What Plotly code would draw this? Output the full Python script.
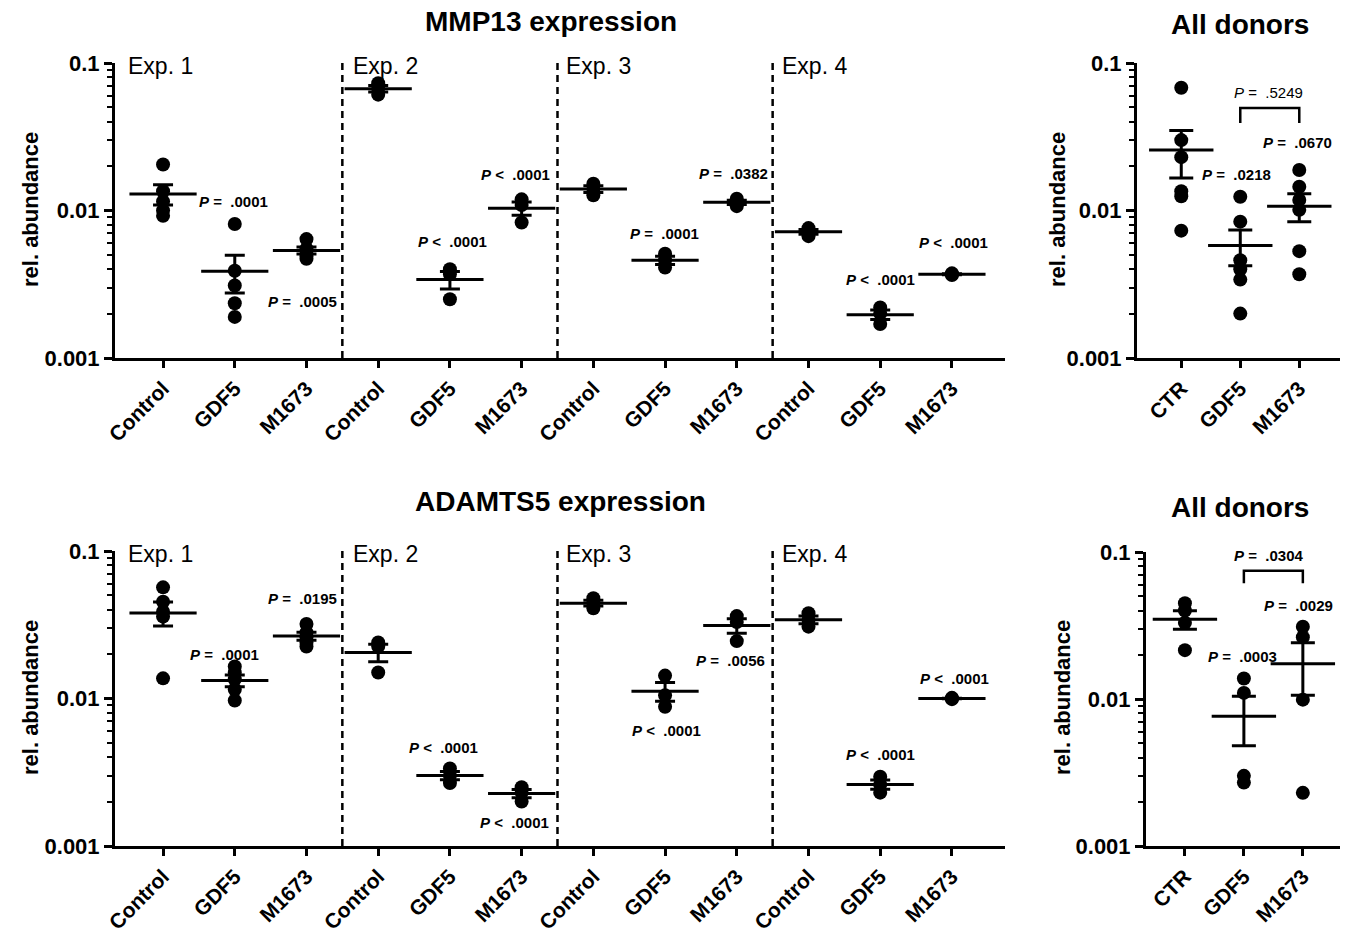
import numpy as np
import plotly.graph_objects as go

# ---------------- data ----------------
exp_categories = ["Control", "GDF5", "M1673"] * 4
donor_categories = ["CTR", "GDF5", "M1673"]
exp_names = ["Exp. 1", "Exp. 2", "Exp. 3", "Exp. 4"]
y_tick_vals = [0.001, 0.01, 0.1]
y_tick_text = ["0.001", "0.01", "0.1"]

mmp13_exp = [
    [0.0205, 0.0135, 0.0115, 0.0100, 0.0092],
    [0.0081, 0.0039, 0.0031, 0.00235, 0.0019],
    [0.0064, 0.0055, 0.0053, 0.0049, 0.0047],
    [0.073, 0.067, 0.061],
    [0.0040, 0.0037, 0.0025],
    [0.0119, 0.0109, 0.0083],
    [0.0152, 0.0140, 0.0127],
    [0.0051, 0.0046, 0.0041],
    [0.0120, 0.0114, 0.0107],
    [0.0076, 0.0072, 0.0067],
    [0.0022, 0.0020, 0.0017],
    [0.00375, 0.0037, 0.00365],
]
mmp13_donors = [
    [0.068, 0.030, 0.023, 0.0135, 0.0125, 0.0073],
    [0.0124, 0.0084, 0.0046, 0.0040, 0.0034, 0.0020],
    [0.0188, 0.0145, 0.0118, 0.0101, 0.0053, 0.0037],
]
adamts5_exp = [
    [0.0567, 0.0453, 0.0387, 0.0359, 0.0137],
    [0.0165, 0.0150, 0.0135, 0.0115, 0.0097],
    [0.0320, 0.0280, 0.0260, 0.0240, 0.0225],
    [0.0240, 0.0225, 0.0150],
    [0.00335, 0.0030, 0.00267],
    [0.0025, 0.0023, 0.0020],
    [0.0478, 0.0442, 0.0409],
    [0.0143, 0.0105, 0.0088],
    [0.0362, 0.0330, 0.0245],
    [0.0378, 0.0341, 0.0307],
    [0.00295, 0.0026, 0.0023],
    [0.0101, 0.0100, 0.0099],
]
adamts5_donors = [
    [0.0448, 0.0400, 0.0330, 0.0215],
    [0.0138, 0.0110, 0.0030, 0.0027],
    [0.0310, 0.0263, 0.0099, 0.0023],
]

mmp13_exp_p = ["", "P = .0001", "P = .0005", "", "P < .0001", "P < .0001",
               "", "P = .0001", "P = .0382", "", "P < .0001", "P < .0001"]
adamts5_exp_p = ["", "P = .0001", "P = .0195", "", "P < .0001", "P < .0001",
                 "", "P < .0001", "P = .0056", "", "P < .0001", "P < .0001"]
mmp13_donor_p = ["", "P = .0218", "P = .0670"]
adamts5_donor_p = ["", "P = .0003", "P = .0029"]
mmp13_bracket_p = "P = .5249"
adamts5_bracket_p = "P = .0304"

# ---------------- helpers ----------------
W, H = 1346, 934
FONT = "Liberation Sans, Arial, sans-serif"


def px_x(p):
    return p / W


def px_y(p):
    return 1 - p / H


def ptxt(s, bold=True):
    sym = "=" if "=" in s else "&lt;"
    val = s.split(" ")[-1]
    inner = "<i>P</i> " + sym + "\u00a0 " + val
    return "<b>" + inner + "</b>" if bold else inner


fig = go.Figure()


def add_panel(groups, xa, ya, mean_len, cap):
    xs, ys = [], []
    for i, g in enumerate(groups):
        xs += [i] * len(g)
        ys += g
    fig.add_trace(go.Scatter(
        x=xs, y=ys, mode="markers", xaxis=xa, yaxis=ya,
        marker=dict(color="black", size=14, line=dict(width=0)),
        showlegend=False, hoverinfo="y"))
    means = [float(np.mean(g)) for g in groups]
    sems = [float(np.std(g, ddof=1) / np.sqrt(len(g))) for g in groups]
    fig.add_trace(go.Scatter(
        x=list(range(len(groups))), y=means, mode="markers", xaxis=xa, yaxis=ya,
        marker=dict(symbol="line-ew", size=mean_len, color="black",
                    line=dict(color="black", width=3)),
        error_y=dict(type="data", array=sems, visible=True, color="black",
                     thickness=3, width=cap),
        showlegend=False, hoverinfo="y"))


add_panel(mmp13_exp, "x", "y", 48, 10)
add_panel(mmp13_donors, "x2", "y2", 46, 12)
add_panel(adamts5_exp, "x3", "y3", 48, 10)
add_panel(adamts5_donors, "x4", "y4", 46, 12)

# brackets for donor comparisons GDF5 vs M1673
for (xa, ya, top, leg) in [("x2", "y2", 0.0495, 0.0392), ("x4", "y4", 0.0746, 0.0612)]:
    fig.add_trace(go.Scatter(
        x=[1, 1, 2, 2], y=[leg, top, top, leg], mode="lines", xaxis=xa, yaxis=ya,
        line=dict(color="black", width=2.5), showlegend=False, hoverinfo="skip"))

minor_vals = [m * 10.0 ** e for e in (-3, -2) for m in range(2, 10)]


def yaxis(dom, anchor):
    return dict(
        type="log", range=[-3, -1], domain=dom, anchor=anchor, automargin=False,
        tickmode="array", tickvals=y_tick_vals, ticktext=y_tick_text,
        ticks="outside", ticklen=8, tickwidth=2.5, tickcolor="black",
        showline=True, linewidth=3, linecolor="black",
        showgrid=False, zeroline=False,
        tickfont=dict(family=FONT, size=22, color="black", weight="bold"),
        minor=dict(tickmode="array", tickvals=minor_vals, ticks="outside",
                   ticklen=5, tickwidth=2, tickcolor="black", showgrid=False),
    )


def xaxis(dom, anchor, rng, labels):
    return dict(
        domain=dom, anchor=anchor, range=rng, automargin=False,
        tickmode="array", tickvals=list(range(len(labels))), ticktext=labels,
        tickangle=-45, ticks="outside", ticklen=7, tickwidth=2.5, tickcolor="black",
        showline=True, linewidth=3, linecolor="black",
        showgrid=False, zeroline=False,
        tickfont=dict(family=FONT, size=21, color="black", weight="bold"),
    )


top_dom = [px_y(358), px_y(63)]
bot_dom = [px_y(846), px_y(551)]

fig.update_layout(
    template="none",
    width=W, height=H, autosize=False,
    margin=dict(l=0, r=0, t=0, b=0, pad=0, autoexpand=False),
    paper_bgcolor="white", plot_bgcolor="white",
    font=dict(family=FONT, color="black"),
    showlegend=False,
    xaxis=xaxis([px_x(115), px_x(1005)], "y", [-0.67, 11.74], exp_categories),
    yaxis=yaxis(top_dom, "x"),
    xaxis2=xaxis([px_x(1137), px_x(1340)], "y2", [-0.75, 2.69], donor_categories),
    yaxis2=yaxis(top_dom, "x2"),
    xaxis3=xaxis([px_x(115), px_x(1005)], "y3", [-0.67, 11.74], exp_categories),
    yaxis3=yaxis(bot_dom, "x3"),
    xaxis4=xaxis([px_x(1146), px_x(1340)], "y4", [-0.66, 2.63], donor_categories),
    yaxis4=yaxis([px_y(846), px_y(552)], "x4"),
)

# dashed separators between experiments
shapes = []
for xr, yr in [("x", "y domain"), ("x3", "y3 domain")]:
    for xv in (2.5, 5.5, 8.5):
        shapes.append(dict(type="line", xref=xr, yref=yr, x0=xv, x1=xv, y0=0, y1=1,
                           line=dict(color="black", width=2.5, dash="7px,5px")))
fig.update_layout(shapes=shapes)

ann = []
# titles
for txt, cx, cy in [("MMP13 expression", 551, 22), ("All donors", 1240, 25),
                    ("ADAMTS5 expression", 560, 502), ("All donors", 1240, 507)]:
    ann.append(dict(text="<b>" + txt + "</b>", x=px_x(cx), y=px_y(cy), xref="paper", yref="paper",
                    showarrow=False, xanchor="center", yanchor="middle",
                    font=dict(family=FONT, size=28, color="black")))
# y axis titles
for cx, cy in [(30, 210), (1057, 210), (30, 698), (1062, 698)]:
    ann.append(dict(text="<b>rel. abundance</b>", x=px_x(cx), y=px_y(cy), xref="paper",
                    yref="paper", showarrow=False, textangle=-90,
                    xanchor="center", yanchor="middle",
                    font=dict(family=FONT, size=22, color="black")))
# experiment labels
for xr, yr in [("x", "y"), ("x3", "y3")]:
    for nm, xv in zip(exp_names, (-0.52, 2.62, 5.59, 8.6)):
        ann.append(dict(text=nm, x=xv, y=-1.02, xref=xr, yref=yr, showarrow=False,
                        xanchor="left", yanchor="middle",
                        font=dict(family=FONT, size=23, color="black")))

# p-value label positions (category offset, log10 position)
mmp13_exp_pos = [None, (0.98, -1.942), (1.95, -2.614), None, (4.03, -2.207), (4.92, -1.759),
                 None, (6.99, -2.159), (7.95, -1.746), None, (10.01, -2.471), (11.02, -2.22)]
adamts5_exp_pos = [None, (0.86, -1.705), (1.95, -1.319), None, (3.91, -2.329), (4.9, -2.844),
                   None, (7.02, -2.214), (7.91, -1.739), None, (10.01, -2.383), (11.03, -1.861)]
mmp13_donor_pos = [None, (0.93, -1.759), (1.97, -1.536)]
adamts5_donor_pos = [None, (0.98, -1.714), (1.93, -1.361)]

for labels, pos, xr, yr in [(mmp13_exp_p, mmp13_exp_pos, "x", "y"),
                            (adamts5_exp_p, adamts5_exp_pos, "x3", "y3"),
                            (mmp13_donor_p, mmp13_donor_pos, "x2", "y2"),
                            (adamts5_donor_p, adamts5_donor_pos, "x4", "y4")]:
    for lab, ps in zip(labels, pos):
        if not lab:
            continue
        ann.append(dict(text=ptxt(lab), x=ps[0], y=ps[1], xref=xr, yref=yr, showarrow=False,
                        xanchor="center", yanchor="middle",
                        font=dict(family=FONT, size=15, color="black")))

ann.append(dict(text=ptxt(mmp13_bracket_p, bold=False), x=1.47, y=-1.203, xref="x2", yref="y2",
                showarrow=False, xanchor="center", yanchor="middle",
                font=dict(family=FONT, size=15, color="black")))
ann.append(dict(text=ptxt(adamts5_bracket_p), x=1.41, y=-1.027, xref="x4", yref="y4",
                showarrow=False, xanchor="center", yanchor="middle",
                font=dict(family=FONT, size=15, color="black")))

fig.update_layout(annotations=ann)
fig.write_html("out.html")
